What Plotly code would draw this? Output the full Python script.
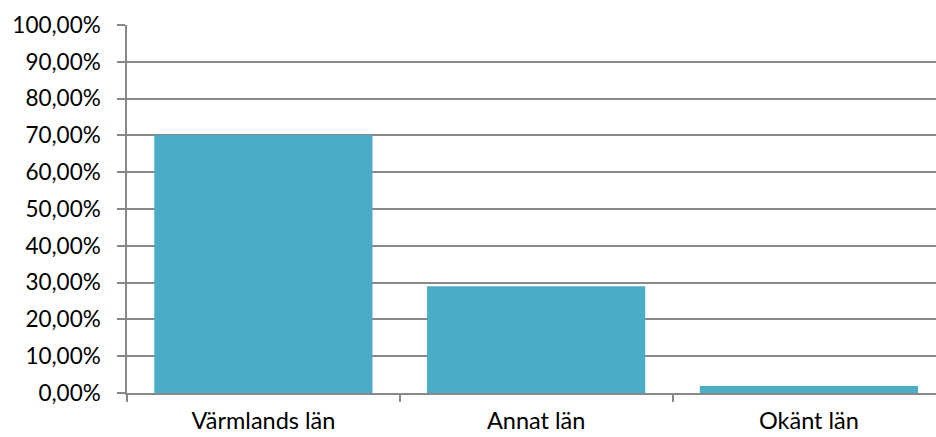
import plotly.graph_objects as go

categories = ["Värmlands län", "Annat län", "Okänt län"]
values = [70.1, 29.0, 1.9]
y_ticks = [0, 10, 20, 30, 40, 50, 60, 70, 80, 90, 100]
y_ticktext = [f"{v},00%" for v in y_ticks]

fig = go.Figure(go.Bar(x=categories, y=values, marker=dict(color="#4BACC6", line=dict(width=0))))

fig.update_layout(
    width=936, height=437,
    margin=dict(l=127.3, r=0, t=25, b=44.3),
    paper_bgcolor="white", plot_bgcolor="white",
    bargap=0.2,
    showlegend=False,
    font=dict(family="Lato", size=22, color="#000000"),
)
fig.update_xaxes(
    range=[-0.5, 2.466],
    showline=True, linecolor="#888888", linewidth=1.5,
    ticks="outside", tickson="boundaries", ticklen=7, tickcolor="#888888", tickwidth=1.5,
    showgrid=False,
    tickfont=dict(size=23.5),
    ticklabelstandoff=6,
    automargin=False,
)
fig.update_yaxes(
    range=[0, 100],
    tickvals=y_ticks, ticktext=y_ticktext,
    showline=True, linecolor="#888888", linewidth=1.5,
    ticks="outside", ticklen=8, tickcolor="#888888", tickwidth=1.5,
    showgrid=True, gridcolor="#888888", gridwidth=1.5,
    zeroline=False,
    tickfont=dict(size=22.5),
    ticklabelstandoff=12,
    automargin=False,
)

fig.write_html("out.html")
